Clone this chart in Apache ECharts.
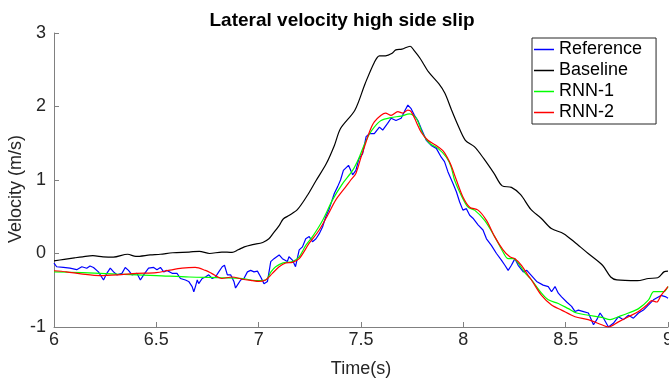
<!DOCTYPE html>
<html>
<head>
<meta charset="utf-8">
<script src="https://cdn.jsdelivr.net/npm/echarts@6/dist/echarts.min.js"></script>
<style>
  html, body { margin: 0; padding: 0; background: #fff; }
  #chart { width: 669px; height: 382px; }
</style>
</head>
<body>
<div id="chart"></div>
<script>
// time / velocity samples
const refT = [6.000, 6.013, 6.046, 6.078, 6.111, 6.136, 6.160, 6.176, 6.193, 6.217, 6.242, 6.258, 6.275, 6.291, 6.307, 6.332, 6.348, 6.364, 6.381, 6.405, 6.422, 6.438, 6.462, 6.487, 6.503, 6.520, 6.536, 6.552, 6.577, 6.601, 6.618, 6.642, 6.658, 6.675, 6.683, 6.691, 6.700, 6.707, 6.724, 6.740, 6.756, 6.773, 6.789, 6.805, 6.822, 6.833, 6.847, 6.863, 6.879, 6.887, 6.896, 6.912, 6.928, 6.945, 6.961, 6.977, 6.994, 7.010, 7.026, 7.043, 7.059, 7.075, 7.100, 7.116, 7.140, 7.148, 7.165, 7.180, 7.198, 7.214, 7.230, 7.247, 7.263, 7.280, 7.296, 7.312, 7.328, 7.345, 7.370, 7.386, 7.400, 7.414, 7.439, 7.459, 7.475, 7.490, 7.508, 7.525, 7.541, 7.565, 7.590, 7.606, 7.630, 7.647, 7.671, 7.696, 7.712, 7.729, 7.745, 7.761, 7.778, 7.794, 7.819, 7.843, 7.868, 7.892, 7.908, 7.925, 7.950, 7.966, 7.982, 7.998, 8.015, 8.031, 8.047, 8.072, 8.096, 8.113, 8.137, 8.162, 8.186, 8.203, 8.219, 8.235, 8.252, 8.268, 8.293, 8.310, 8.333, 8.358, 8.390, 8.415, 8.431, 8.448, 8.464, 8.480, 8.505, 8.529, 8.546, 8.562, 8.587, 8.611, 8.636, 8.652, 8.668, 8.685, 8.709, 8.733, 8.758, 8.782, 8.807, 8.831, 8.856, 8.880, 8.905, 8.929, 8.966, 8.990, 9.000];
const refV = [-0.13, -0.18, -0.19, -0.20, -0.22, -0.18, -0.20, -0.17, -0.19, -0.25, -0.36, -0.27, -0.20, -0.25, -0.29, -0.27, -0.19, -0.23, -0.29, -0.27, -0.36, -0.29, -0.20, -0.19, -0.22, -0.19, -0.25, -0.23, -0.27, -0.27, -0.34, -0.36, -0.38, -0.45, -0.52, -0.45, -0.36, -0.41, -0.34, -0.32, -0.29, -0.34, -0.32, -0.25, -0.18, -0.16, -0.29, -0.29, -0.38, -0.47, -0.43, -0.36, -0.34, -0.25, -0.23, -0.25, -0.24, -0.32, -0.41, -0.38, -0.11, -0.07, -0.02, -0.07, -0.11, -0.045, -0.09, -0.18, 0.05, 0.09, 0.20, 0.23, 0.16, 0.20, 0.27, 0.36, 0.50, 0.61, 0.82, 0.91, 1.00, 1.13, 1.20, 1.07, 1.13, 1.29, 1.36, 1.59, 1.63, 1.63, 1.72, 1.68, 1.77, 1.84, 1.81, 1.84, 1.93, 2.02, 1.97, 1.88, 1.81, 1.70, 1.54, 1.47, 1.43, 1.31, 1.25, 1.11, 0.95, 0.84, 0.70, 0.59, 0.61, 0.52, 0.48, 0.39, 0.32, 0.20, 0.11, 0.00, -0.09, -0.16, -0.23, -0.16, -0.07, -0.16, -0.25, -0.23, -0.30, -0.38, -0.43, -0.45, -0.52, -0.45, -0.54, -0.59, -0.66, -0.72, -0.79, -0.77, -0.79, -0.81, -0.97, -0.90, -0.81, -0.88, -1.00, -0.95, -0.86, -0.90, -0.84, -0.88, -0.81, -0.77, -0.70, -0.63, -0.57, -0.59, -0.61];

const baseT = [6.00, 6.05, 6.10, 6.14, 6.19, 6.24, 6.29, 6.36, 6.40, 6.47, 6.52, 6.58, 6.66, 6.71, 6.76, 6.82, 6.87, 6.90, 6.93, 6.97, 7.02, 7.05, 7.07, 7.10, 7.12, 7.15, 7.19, 7.24, 7.28, 7.33, 7.37, 7.40, 7.47, 7.52, 7.565, 7.59, 7.62, 7.65, 7.67, 7.70, 7.74, 7.76, 7.79, 7.83, 7.88, 7.91, 7.94, 7.97, 8.01, 8.055, 8.10, 8.15, 8.19, 8.235, 8.28, 8.33, 8.38, 8.43, 8.49, 8.55, 8.61, 8.68, 8.72, 8.75, 8.85, 8.905, 8.95, 8.98, 9.00];
const baseV = [-0.10, -0.08, -0.06, -0.045, -0.03, -0.045, -0.05, -0.01, -0.04, -0.02, -0.01, 0.01, 0.02, 0.03, 0.00, 0.02, 0.015, 0.05, 0.09, 0.12, 0.15, 0.20, 0.27, 0.38, 0.47, 0.52, 0.60, 0.80, 0.99, 1.22, 1.47, 1.70, 1.95, 2.31, 2.60, 2.69, 2.69, 2.72, 2.77, 2.78, 2.82, 2.76, 2.65, 2.47, 2.31, 2.18, 1.97, 1.77, 1.54, 1.45, 1.29, 1.09, 0.92, 0.90, 0.80, 0.60, 0.48, 0.34, 0.27, 0.14, 0.00, -0.16, -0.32, -0.36, -0.37, -0.34, -0.33, -0.25, -0.24];

const rnn1T = [6.00, 6.14, 6.31, 6.50, 6.66, 6.82, 6.92, 6.985, 7.034, 7.06, 7.083, 7.116, 7.165, 7.198, 7.23, 7.263, 7.312, 7.361, 7.41, 7.459, 7.49, 7.516, 7.54, 7.565, 7.598, 7.647, 7.696, 7.737, 7.77, 7.802, 7.835, 7.876, 7.917, 7.94, 7.957, 7.99, 8.023, 8.055, 8.104, 8.153, 8.194, 8.219, 8.244, 8.276, 8.30, 8.333, 8.382, 8.415, 8.464, 8.513, 8.554, 8.61, 8.676, 8.717, 8.758, 8.807, 8.856, 8.905, 8.93, 8.957, 8.98, 9.00];
const rnn1V = [-0.25, -0.26, -0.28, -0.30, -0.32, -0.33, -0.34, -0.37, -0.36, -0.25, -0.18, -0.13, -0.11, -0.045, 0.11, 0.23, 0.45, 0.73, 0.95, 1.13, 1.30, 1.48, 1.62, 1.72, 1.81, 1.85, 1.87, 1.90, 1.84, 1.63, 1.50, 1.43, 1.31, 1.18, 1.00, 0.79, 0.63, 0.59, 0.45, 0.23, 0.02, -0.07, -0.07, -0.16, -0.26, -0.36, -0.54, -0.63, -0.68, -0.75, -0.81, -0.84, -0.87, -0.90, -0.86, -0.81, -0.75, -0.63, -0.52, -0.52, -0.52, -0.45];

const rnn2T = [6.00, 6.06, 6.14, 6.225, 6.31, 6.405, 6.50, 6.56, 6.626, 6.69, 6.74, 6.77, 6.82, 6.87, 6.92, 6.97, 7.00, 7.034, 7.067, 7.10, 7.132, 7.165, 7.198, 7.247, 7.296, 7.337, 7.377, 7.426, 7.45, 7.475, 7.50, 7.525, 7.545, 7.565, 7.598, 7.62, 7.647, 7.68, 7.704, 7.729, 7.745, 7.77, 7.794, 7.827, 7.868, 7.90, 7.925, 7.94, 7.966, 7.998, 8.031, 8.072, 8.113, 8.153, 8.194, 8.227, 8.252, 8.284, 8.317, 8.333, 8.382, 8.431, 8.48, 8.546, 8.61, 8.676, 8.709, 8.758, 8.807, 8.856, 8.897, 8.92, 8.945, 8.966, 9.00];
const rnn2V = [-0.235, -0.25, -0.28, -0.30, -0.29, -0.27, -0.26, -0.23, -0.20, -0.19, -0.23, -0.27, -0.34, -0.32, -0.35, -0.37, -0.38, -0.36, -0.27, -0.18, -0.13, -0.12, -0.07, 0.14, 0.32, 0.52, 0.73, 0.91, 1.00, 1.09, 1.31, 1.52, 1.68, 1.79, 1.88, 1.91, 1.88, 1.93, 1.91, 1.95, 1.93, 1.79, 1.65, 1.54, 1.47, 1.40, 1.29, 1.20, 1.00, 0.77, 0.63, 0.59, 0.45, 0.23, 0.05, -0.045, -0.07, -0.16, -0.30, -0.36, -0.57, -0.70, -0.77, -0.86, -0.90, -0.97, -1.00, -0.93, -0.86, -0.79, -0.70, -0.64, -0.66, -0.57, -0.45];

const seriesNames = ['Reference', 'Baseline', 'RNN-1', 'RNN-2'];
const seriesColors = ['#0000ff', '#000000', '#00ff00', '#ff0000'];

const pairs = (t, v) => t.map((x, i) => [x, v[i]]);
const lines = [pairs(refT, refV), pairs(baseT, baseV), pairs(rnn1T, rnn1V), pairs(rnn2T, rnn2V)];

const font = 'Liberation Sans, Arial, Helvetica, sans-serif';
const chart = echarts.init(document.getElementById('chart'));

chart.setOption({
  animation: false,
  title: {
    text: 'Lateral velocity high side slip',
    left: 337,
    top: 6,
    textAlign: 'center',
    textStyle: { fontFamily: font, fontSize: 19, fontWeight: 'bold', color: '#000' }
  },
  legend: {
    data: seriesNames,
    orient: 'vertical',
    left: 532,
    top: 38,
    icon: 'rect',
    itemWidth: 20,
    itemHeight: 1.5,
    itemGap: 0,
    padding: [1, 14, 1, 2],
    borderColor: '#262626',
    borderWidth: 1,
    backgroundColor: '#fff',
    textStyle: { fontFamily: font, fontSize: 18, color: '#000', lineHeight: 21 }
  },
  grid: { left: 54, right: 1, top: 33, bottom: 55, outerBoundsMode: 'none', containLabel: false },
  xAxis: {
    type: 'value',
    min: 6,
    max: 9,
    interval: 0.5,
    name: 'Time(s)',
    nameLocation: 'middle',
    nameGap: 33,
    nameMoveOverlap: false,
    nameTextStyle: { fontFamily: font, fontSize: 18, color: '#262626' },
    axisLine: { onZero: false, lineStyle: { color: '#808080', width: 1 } },
    axisTick: { inside: true, length: 5, lineStyle: { color: '#808080' } },
    axisLabel: { margin: 4, fontFamily: font, fontSize: 18, color: '#262626' },
    splitLine: { show: false }
  },
  yAxis: {
    type: 'value',
    min: -1,
    max: 3,
    interval: 1,
    name: 'Velocity (m/s)',
    nameLocation: 'middle',
    nameGap: 29,
    nameMoveOverlap: false,
    nameTextStyle: { fontFamily: font, fontSize: 18, color: '#262626', padding: [0, 18, 0, 0] },
    axisLine: { show: true, onZero: false, lineStyle: { color: '#808080', width: 1 } },
    axisTick: { show: true, inside: true, length: 5, lineStyle: { color: '#808080' } },
    axisLabel: { margin: 8, fontFamily: font, fontSize: 18, color: '#262626' },
    splitLine: { show: false }
  },
  series: seriesNames.map((name, i) => ({
    name: name,
    type: 'line',
    data: lines[i],
    showSymbol: false,
    symbol: 'none',
    smooth: i === 0 ? false : 0.3,
    itemStyle: { color: seriesColors[i] },
    lineStyle: { color: seriesColors[i], width: 1.2 }
  }))
});
</script>
</body>
</html>
